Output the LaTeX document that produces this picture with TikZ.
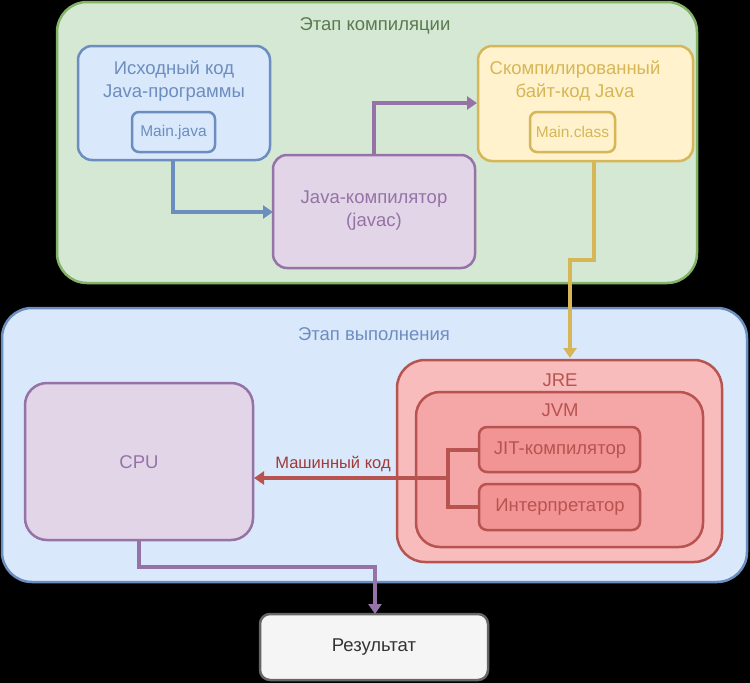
\documentclass[tikz,border=0pt]{standalone}
\usepackage{fontspec}
\setmainfont{Liberation Sans}
\usetikzlibrary{arrows.meta}
\definecolor{gfill}{HTML}{D5E8D4}\definecolor{gline}{HTML}{82B366}
\definecolor{bfill}{HTML}{DAE8FC}\definecolor{bline}{HTML}{6C8EBF}
\definecolor{pfill}{HTML}{E1D5E7}\definecolor{pline}{HTML}{9673A6}
\definecolor{yfill}{HTML}{FFF2CC}\definecolor{yline}{HTML}{D6B656}
\definecolor{rline}{HTML}{B85450}
\definecolor{jre}{HTML}{F8BCBC}\definecolor{jvm}{HTML}{F5A6A6}\definecolor{jit}{HTML}{F29494}
\definecolor{gtext}{HTML}{5B7A50}\definecolor{rtext}{HTML}{A03A37}
\definecolor{resfill}{HTML}{F5F5F5}
\tikzset{
  x=1pt,y=-1pt,
  box/.style={draw, line width=2.5pt, rounded corners=14pt, inner sep=0pt},
  cont/.style={draw, line width=2.5pt, rounded corners=30pt},
  conn/.style={line width=4pt, -{Triangle[length=10pt,width=13pt]}},
  lbl/.style={font=\fontsize{18.5}{23}\selectfont, align=center},
  small/.style={font=\fontsize{15.5}{18}\selectfont}
}
\begin{document}
\begin{tikzpicture}
\fill[black] (0,0) rectangle (750,683);
\useasboundingbox (0,0) rectangle (750,683);
% compile stage
\draw[cont, fill=gfill, draw=gline] (57,2) rectangle (697,283);
\node[lbl, text=gtext] (t1) at (375,26) {Этап компиляции};
\draw[box, fill=bfill, draw=bline] (78,46) rectangle (270,160);
\coordinate (srcB) at (173,160);
\node[lbl, text=bline] (src) at (174,81) {Исходный код\\Java-программы};
\draw[box, fill=bfill, draw=bline, rounded corners=7pt] (132,112) rectangle (215,152);
\node[lbl, small, text=bline] (mj) at (173.5,132) {Main.java};
\draw[box, fill=pfill, draw=pline] (273,155) rectangle (475,268);
\node[lbl, text=pline] (jc) at (374,211) {Java-компилятор\\(javac)};
\draw[box, fill=yfill, draw=yline] (478,46) rectangle (693,161);
\node[lbl, text=yline] (bc) at (575,81) {Скомпилированный\\байт-код Java};
\draw[box, fill=yfill, draw=yline, rounded corners=7pt] (530,112) rectangle (615,152);
\node[lbl, small, text=yline] (mc) at (572.5,132) {Main.class};
% runtime stage
\draw[cont, fill=bfill, draw=bline] (2,308) rectangle (747,582);
\node[lbl, text=bline] (t2) at (374,334) {Этап выполнения};
\draw[box, fill=pfill, draw=pline, rounded corners=22pt] (25,383) rectangle (253,540);
\node[lbl, text=pline] (cpu) at (139,462) {CPU};
\draw[box, fill=jre, draw=rline, rounded corners=28pt] (397,360) rectangle (722,562);
\node[lbl, text=rline] (jrel) at (560,380) {JRE};
\draw[box, fill=jvm, draw=rline, rounded corners=24pt] (416,392) rectangle (703,547);
\node[lbl, text=rline] (jvml) at (560,410) {JVM};
\draw[box, fill=jit, draw=rline, rounded corners=8pt] (479,427) rectangle (640,472);
\node[lbl, text=rline] (jitl) at (560,450) {JIT-компилятор};
\draw[box, fill=jit, draw=rline, rounded corners=8pt] (479,484) rectangle (640,530);
\node[lbl, text=rline] (intl) at (560,507) {Интерпретатор};
\draw[box, fill=resfill, draw=black!60, rounded corners=10pt] (260,614) rectangle (488,680);
\node[lbl, text=black!80] (res) at (374,647) {Результат};
% connectors
\coordinate (jcL) at (273,212);
\coordinate (jcT) at (374,155);
\coordinate (bcL) at (477,103);
\coordinate (bcB) at (594,161);
\coordinate (jreT) at (570,358);
\coordinate (jitW) at (479,450);
\coordinate (intW) at (479,507);
\coordinate (cpuE) at (254,478);
\coordinate (cpuB) at (139,540);
\coordinate (resT) at (375,614);
\draw[conn, draw=bline] (srcB) |- (jcL);
\draw[conn, draw=pline] (jcT) |- (bcL);
\draw[conn, draw=yline] (bcB) -- (594,260) -- (570,260) -- (jreT);
\draw[line width=4pt, draw=rline] (jitW) -- (448,450) -- (448,507) -- (intW);
\draw[conn, draw=rline] (448,478) -- (cpuE);
\node[text=rtext, font=\fontsize{16.5}{19}\selectfont] (mk) at (333,464) {Машинный код};
\draw[conn, draw=pline] (cpuB) -- (139,567) -- (375,567) -- (resT);
\end{tikzpicture}
\end{document}
